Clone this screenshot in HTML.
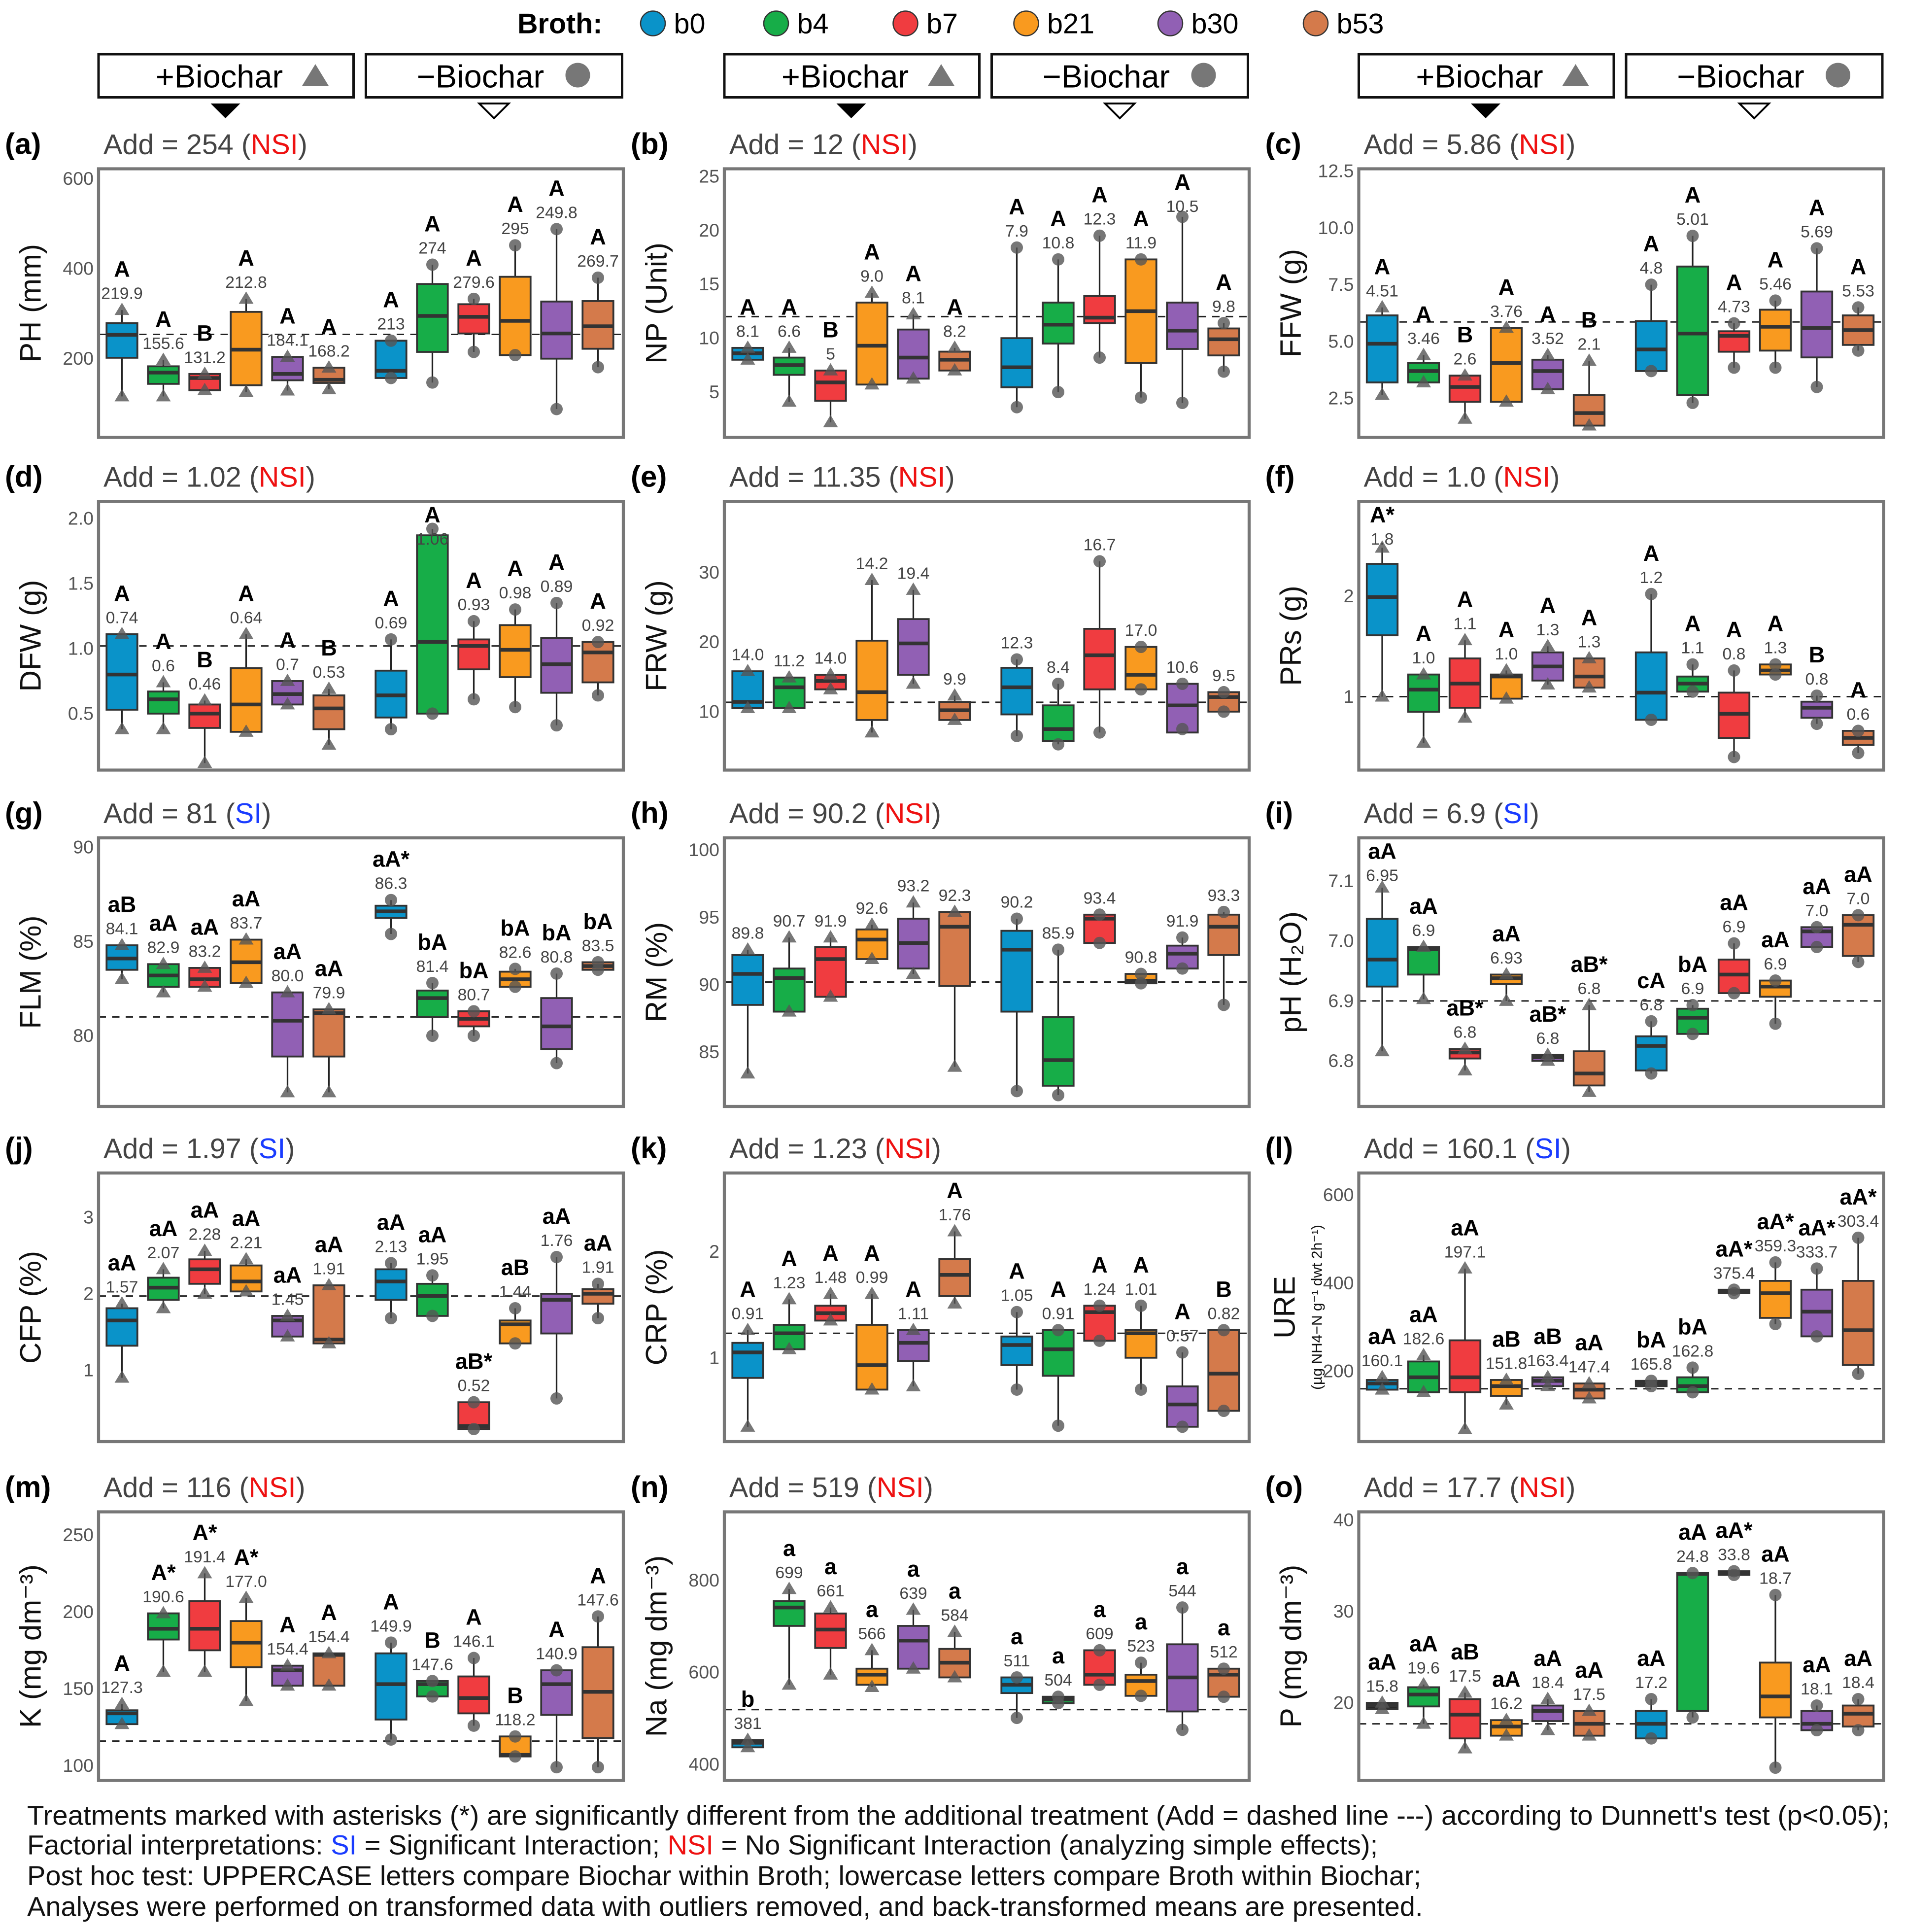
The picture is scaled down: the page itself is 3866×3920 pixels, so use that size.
<!DOCTYPE html>
<html><head><meta charset="utf-8"><style>
html,body{margin:0;padding:0;background:#fff;}
svg{display:block;font-family:"Liberation Sans",sans-serif;}
</style></head><body>
<svg id="fig" xmlns="http://www.w3.org/2000/svg" width="3866" height="3920" viewBox="0 0 1546.4 1568">
<g id="hdr">
<text x="420" y="27" font-size="23" font-weight="bold">Broth:</text>
</g>
<g id="panels"></g>
<g id="footer" font-size="22.4" fill="#111">
<text x="22" y="1481" textLength="1512" lengthAdjust="spacingAndGlyphs">Treatments marked with asterisks (*) are significantly different from the additional treatment (Add = dashed line ---) according to Dunnett's test (p&lt;0.05);</text>
<text x="22" y="1505">Factorial interpretations: <tspan fill="#1a3cff">SI</tspan> = Significant Interaction; <tspan fill="#ee1111">NSI</tspan> = No Significant Interaction (analyzing simple effects);</text>
<text x="22" y="1530">Post hoc test: UPPERCASE letters compare Biochar within Broth; lowercase letters compare Broth within Biochar;</text>
<text x="22" y="1555">Analyses were performed on transformed data with outliers removed, and back-transformed means are presented.</text>
</g>
</svg>
<script>
const broths = ['b0','b4','b7','b21','b30','b53'];
const panelIds = ['a','b','c','d','e','f','g','h','i','j','k','l','m','n','o'];
const yTitles = ['PH (mm)','NP (Unit)','FFW (g)','DFW (g)','FRW (g)','PRs (g)','FLM (%)','RM (%)','pH (H₂O)','CFP (%)','CRP (%)','URE','K (mg dm⁻³)','Na (mg dm⁻³)','P (mg dm⁻³)'];
const addValues = [254,12,5.86,1.02,11.35,1.0,81,90.2,6.9,1.97,1.23,160.1,116,519,17.7];
const addLabels = ['254','12','5.86','1.02','11.35','1.0','81','90.2','6.9','1.97','1.23','160.1','116','519','17.7'];
const interaction = ['NSI','NSI','NSI','NSI','NSI','NSI','SI','NSI','SI','SI','NSI','SI','NSI','NSI','NSI'];
const yLimits = [[25,622],[0.8,25.7],[0.78,12.6],[0.066,2.13],[1.6,40.2],[0.27,2.94],[76.25,90.5],[80.96,100.9],[6.724,7.172],[0.065,3.58],[0.21,2.74],[40,650],[90.4,265],[365,949],[11.5,40.9]];
const tickValues = [[200,400,600],[5,10,15,20,25],[2.5,5,7.5,10,12.5],[0.5,1,1.5,2],[10,20,30],[1,2],[80,85,90],[85,90,95,100],[6.8,6.9,7.0,7.1],[1,2,3],[1,2],[200,400,600],[100,150,200,250],[400,600,800],[20,30,40]];
const tickLabels = [['200','400','600'],['5','10','15','20','25'],['2.5','5.0','7.5','10.0','12.5'],['0.5','1.0','1.5','2.0'],['10','20','30'],['1','2'],['80','85','90'],['85','90','95','100'],['6.8','6.9','7.0','7.1'],['1','2','3'],['1','2'],['200','400','600'],['100','150','200','250'],['400','600','800'],['20','30','40']];
const lows = [
[116,116,130,126,129,132,157,147,215,208,88,181],
[8.0,4.1,2.2,5.7,6.25,7.0,3.6,5.0,8.2,4.5,4.0,6.9],
[2.65,3.2,1.6,2.35,2.9,1.3,3.7,2.3,3.85,3.85,3.0,4.6],
[0.38,0.38,0.12,0.36,0.57,0.26,0.38,0.5,0.61,0.55,0.41,0.64],
[10.5,10.5,13.2,7.0,14.0,8.8,6.5,5.3,7.0,13.2,7.5,10.0],
[1.0,0.54,0.79,0.98,1.12,1.09,0.77,1.05,0.4,1.22,0.73,0.44],
[83.0,82.3,82.6,82.8,77.0,77.0,85.4,80.0,80.0,82.6,78.55,83.5],
[83.4,88.0,89.1,91.9,90.8,83.9,82.1,81.8,93.1,90.1,91.2,88.5],
[6.816,6.903,6.784,6.9,6.8,6.748,6.779,6.845,6.913,6.862,6.99,6.965],
[0.9,1.81,2.0,2.03,1.44,1.35,1.68,1.71,0.23,1.35,0.63,1.68],
[0.35,1.08,1.35,0.7,0.73,1.51,0.7,0.36,1.16,0.7,0.35,0.5],
[158,152,68,124,166,138,166,152,377,307,279,194],
[127,161,161,142,152,152,117,145,126,106,99,99],
[437,573,595,568,608,589,501,533,573,549,475,547],
[19.3,17.7,15.0,16.4,17.0,16.4,16.1,18.4,34.0,12.9,17.0,17.0]];
const q1s = [
[202,144,130,141,152,146,157,215,256,208,200,222],
[8.0,6.6,4.2,5.7,6.25,7.0,5.45,9.5,11.4,7.7,9.0,8.4],
[3.2,3.2,2.35,2.35,2.9,1.3,3.7,2.65,4.55,4.6,4.3,4.85],
[0.53,0.5,0.39,0.36,0.57,0.38,0.47,0.5,0.84,0.78,0.66,0.74],
[10.5,10.5,13.2,8.8,15.3,8.8,9.6,5.8,13.2,13.2,7.0,10.0],
[1.61,0.85,0.89,0.98,1.16,1.09,0.77,1.05,0.59,1.22,0.79,0.52],
[83.5,82.6,82.6,82.8,78.9,78.9,86.25,81.0,80.5,82.6,79.3,83.5],
[88.5,88.0,89.1,91.9,91.2,89.9,88.0,82.5,93.1,90.1,91.2,92.2],
[6.924,6.944,6.804,6.928,6.8,6.759,6.784,6.845,6.913,6.907,6.99,6.975],
[1.32,1.92,2.13,2.03,1.44,1.35,1.92,1.71,0.23,1.35,1.48,1.87],
[0.81,1.08,1.35,0.7,0.97,1.58,0.93,0.83,1.16,1.0,0.35,0.5],
[158,152,152,144,166,138,166,152,377,321,279,214],
[127,182,175,164,152,152,130,145,134,106,133,118],
[437,701,653,573,608,589,555,533,573,549,515,547],
[19.3,19.6,16.1,16.4,18.0,16.4,16.1,19.1,34.0,18.4,17.0,17.4]];
const meds = [
[253,169,157,220,166,153,173,295,293,284,256,272],
[8.6,7.5,5.9,9.3,8.2,8.0,7.3,11.25,11.9,12.5,10.7,9.9],
[4.9,3.7,3.0,4.05,3.7,1.85,4.65,5.35,5.25,5.65,5.6,5.5],
[0.8,0.61,0.5,0.57,0.65,0.54,0.64,1.05,1.02,0.99,0.88,0.97],
[11.4,13.5,14.4,12.8,19.8,10.2,13.5,7.5,18.1,15.3,10.9,12.1],
[1.99,1.07,1.13,1.2,1.3,1.2,1.04,1.13,0.83,1.26,0.89,0.59],
[84.1,83.2,83.0,83.9,80.8,81.2,86.6,82.0,80.9,83.0,80.5,83.7],
[90.8,90.5,91.9,93.35,93.1,94.3,92.6,84.4,94.9,90.3,92.3,94.3],
[6.969,6.986,6.814,6.938,6.806,6.779,6.825,6.872,6.944,6.924,7.016,7.027],
[1.65,2.08,2.32,2.16,1.65,1.4,2.16,1.97,0.27,1.6,1.92,2.0],
[1.05,1.23,1.42,0.93,1.14,1.78,1.12,1.08,1.43,1.23,0.56,0.85],
[172,186,186,166,178,158,172,166,382,377,335,293],
[134,189,189,180,162,172,153,153,144,107,153,148],
[447,741,693,595,669,621,573,541,595,581,589,595],
[19.7,20.9,18.7,17.4,19.1,17.7,17.7,34.1,34.2,20.7,17.7,18.8]];
const q3s = [
[279,183,166,304,204,180,240,366,321,382,327,328],
[9.1,8.2,7.0,13.3,10.8,8.75,10.0,13.3,13.9,17.3,13.3,10.9],
[6.15,4.05,3.5,5.6,4.2,2.65,5.9,8.3,5.45,6.4,7.2,6.15],
[1.11,0.67,0.57,0.85,0.75,0.64,0.83,1.87,1.07,1.18,1.08,1.05],
[15.8,14.9,15.3,20.2,23.3,11.4,16.3,10.9,21.9,19.3,14.0,12.8],
[2.32,1.22,1.38,1.22,1.44,1.38,1.44,1.2,1.04,1.32,0.95,0.66],
[84.8,83.8,83.6,85.1,82.3,81.4,86.9,82.4,81.3,83.4,82.0,83.9],
[92.2,91.2,92.8,94.1,94.9,95.4,94.0,87.6,95.2,90.8,92.9,95.2],
[7.037,6.99,6.82,6.944,6.81,6.816,6.841,6.887,6.969,6.934,7.023,7.043],
[1.81,2.21,2.45,2.37,1.71,2.11,2.32,2.13,0.58,1.65,2.0,2.06],
[1.14,1.31,1.49,1.31,1.26,1.93,1.2,1.26,1.49,1.26,0.73,1.26],
[180,222,270,180,186,172,178,186,385,405,385,405],
[136,199,207,194,165,173,173,155,158,119,162,177],
[453,755,728,608,701,651,589,547,648,595,661,608],
[20.0,21.7,20.4,18.1,19.7,19.1,19.1,34.2,34.4,24.4,19.1,19.7]];
const highs = [
[308,197,166,333,204,180,240,409,333,452,488,380],
[9.1,9.1,7.0,14.2,12.2,9.1,18.4,17.3,19.5,17.3,21.25,11.4],
[6.5,4.4,3.5,5.6,4.4,4.15,7.5,9.65,5.8,6.8,9.1,6.5],
[1.11,0.74,0.6,1.11,0.75,0.69,1.07,1.92,1.21,1.3,1.35,1.05],
[15.8,14.9,15.3,28.9,27.5,12.3,17.5,14.0,31.6,19.3,14.0,12.8],
[2.48,1.22,1.56,1.26,1.5,1.38,2.02,1.32,1.26,1.32,1.01,0.66],
[84.8,83.8,83.6,85.1,82.3,81.4,87.2,82.8,81.3,83.55,83.3,83.9],
[92.6,93.5,93.5,94.45,96.1,95.4,94.9,92.6,95.2,90.8,93.5,95.4],
[7.089,6.99,6.82,6.944,6.81,6.893,6.866,6.893,6.996,6.934,7.023,7.043],
[1.87,2.32,2.56,2.45,1.71,2.11,2.4,2.24,0.58,1.81,2.48,2.13],
[1.26,1.55,1.6,1.6,1.26,2.19,1.43,1.26,1.49,1.49,1.05,1.26],
[186,236,433,180,186,172,178,208,385,447,433,503],
[140,199,225,209,165,173,180,155,170,119,162,197],
[453,781,741,648,736,688,589,547,648,621,741,608],
[20.0,22.0,21.1,18.1,20.4,19.1,20.4,34.2,34.4,31.8,19.7,20.4]];
const meanLabels = [
['219.9','155.6','131.2','212.8','184.1','168.2','213','274','279.6','295','249.8','269.7'],
['8.1','6.6','5','9.0','8.1','8.2','7.9','10.8','12.3','11.9','10.5','9.8'],
['4.51','3.46','2.6','3.76','3.52','2.1','4.8','5.01','4.73','5.46','5.69','5.53'],
['0.74','0.6','0.46','0.64','0.7','0.53','0.69','1.06','0.93','0.98','0.89','0.92'],
['14.0','11.2','14.0','14.2','19.4','9.9','12.3','8.4','16.7','17.0','10.6','9.5'],
['1.8','1.0','1.1','1.0','1.3','1.3','1.2','1.1','0.8','1.3','0.8','0.6'],
['84.1','82.9','83.2','83.7','80.0','79.9','86.3','81.4','80.7','82.6','80.8','83.5'],
['89.8','90.7','91.9','92.6','93.2','92.3','90.2','85.9','93.4','90.8','91.9','93.3'],
['6.95','6.9','6.8','6.93','6.8','6.8','6.8','6.9','6.9','6.9','7.0','7.0'],
['1.57','2.07','2.28','2.21','1.45','1.91','2.13','1.95','0.52','1.44','1.76','1.91'],
['0.91','1.23','1.48','0.99','1.11','1.76','1.05','0.91','1.24','1.01','0.57','0.82'],
['160.1','182.6','197.1','151.8','163.4','147.4','165.8','162.8','375.4','359.3','333.7','303.4'],
['127.3','190.6','191.4','177.0','154.4','154.4','149.9','147.6','146.1','118.2','140.9','147.6'],
['381','699','661','566','639','584','511','504','609','523','544','512'],
['15.8','19.6','17.5','16.2','18.4','17.5','17.2','24.8','33.8','18.7','18.1','18.4']];
const letters = [
['A','A','B','A','A','A','A','A','A','A','A','A'],
['A','A','B','A','A','A','A','A','A','A','A','A'],
['A','A','B','A','A','B','A','A','A','A','A','A'],
['A','A','B','A','A','B','A','A','A','A','A','A'],
['','','','','','','','','','','',''],
['A*','A','A','A','A','A','A','A','A','A','B','A'],
['aB','aA','aA','aA','aA','aA','aA*','bA','bA','bA','bA','bA'],
['','','','','','','','','','','',''],
['aA','aA','aB*','aA','aB*','aB*','cA','bA','aA','aA','aA','aA'],
['aA','aA','aA','aA','aA','aA','aA','aA','aB*','aB','aA','aA'],
['A','A','A','A','A','A','A','A','A','A','A','B'],
['aA','aA','aA','aB','aB','aA','bA','bA','aA*','aA*','aA*','aA*'],
['A','A*','A*','A*','A','A','A','B','A','B','A','A'],
['b','a','a','a','a','a','a','a','a','a','a','a'],
['aA','aA','aB','aA','aA','aA','aA','aA','aA*','aA','aA','aA']];

const colors = ['#0a93c9','#17ad48','#f03c40','#f99a1f','#9160b4','#d47a4b'];
const NS = 'http://www.w3.org/2000/svg';
const colX = [80,588,1103], rowY = [137,407,680,952,1227], PW = 426, PH = 218;
function mk(tag, attrs, parent, txt){
  const e = document.createElementNS(NS, tag);
  for (const k in attrs) e.setAttribute(k, attrs[k]);
  if (txt !== undefined) e.textContent = txt;
  parent.appendChild(e);
  return e;
}
const hdr = document.getElementById('hdr');
const legX = [530,630,735,833,950,1068];
broths.forEach((b,i)=>{
  const g = mk('g',{},hdr);
  
  
  mk('circle',{cx:legX[i],cy:19,r:10,fill:colors[i],stroke:'#333','stroke-width':1},g);
  mk('text',{x:legX[i]+17,y:27,'font-size':23},g,b);
});
colX.forEach((cx,c)=>{
  const g1 = mk('g',{},hdr);
  
  
  mk('rect',{x:cx,y:44,width:207,height:35,fill:'#fff',stroke:'#111','stroke-width':2},g1);
  mk('text',{x:cx+98,y:71,'font-size':26,'text-anchor':'middle'},g1,'+Biochar');
  mk('polygon',{points:`${cx+165},70 ${cx+176},52 ${cx+187},70`,fill:'#777'},g1);
  mk('polygon',{points:`${cx+91},84 ${cx+115},84 ${cx+103},96`,fill:'#000'},g1);
  const g2 = mk('g',{},hdr);
  
  
  mk('rect',{x:cx+217,y:44,width:208,height:35,fill:'#fff',stroke:'#111','stroke-width':2},g2);
  mk('text',{x:cx+310,y:71,'font-size':26,'text-anchor':'middle'},g2,'−Biochar');
  mk('circle',{cx:cx+389,cy:61,r:10,fill:'#777'},g2);
  mk('polygon',{points:`${cx+309},84 ${cx+333},84 ${cx+321},96`,fill:'#fff',stroke:'#000','stroke-width':1.5},g2);
});
const root = document.getElementById('panels');
panelIds.forEach((pid,p)=>{
  const x0 = colX[p%3], y0 = rowY[Math.floor(p/3)];
  const [dmin,dmax] = yLimits[p];
  const Y = v => y0 + PH - (v-dmin)/(dmax-dmin)*PH;
  const X = i => x0 + 19 + (i<6 ? i : i+0.5)*33.6;
  const g = mk('g',{},root);
  
  
  const pl = mk('text',{x:x0-76,y:y0-12,'font-size':24,'font-weight':'bold'},g,'('+pid+')');
  
  
  const tt = mk('text',{x:x0+4,y:y0-12,'font-size':23,fill:'#444'},g);
  
  
  mk('tspan',{},tt,'Add = '+addLabels[p]+' (');
  mk('tspan',{fill:interaction[p]==='SI'?'#1a3cff':'#ee1111'},tt,interaction[p]);
  mk('tspan',{},tt,')');
  const yt = mk('text',{transform:`translate(${x0-47},${y0+PH/2}) rotate(-90)`,'font-size':24,'text-anchor':'middle',fill:'#111'},g,yTitles[p]);
  
  
  if (p===11){
    yt.setAttribute('transform',`translate(${x0-52},${y0+PH/2}) rotate(-90)`);
    const ys = mk('text',{transform:`translate(${x0-30},${y0+PH/2}) rotate(-90)`,'font-size':12,'text-anchor':'middle',fill:'#111'},g,'(µg NH4−N g⁻¹ dwt 2h⁻¹)');
    
    
  }
  tickValues[p].forEach((t,k)=>{
    const tl = mk('text',{x:x0-4,y:Y(t)+5,'font-size':15,'text-anchor':'end',fill:'#555'},g,tickLabels[p][k]);
    
    
  });
  const al = mk('line',{x1:x0,x2:x0+PW,y1:Y(addValues[p]),y2:Y(addValues[p]),stroke:'#222','stroke-width':1.2,'stroke-dasharray':'6,5'},g);
  
  
  for (let i=0;i<12;i++){
    const cx = X(i), col = (p===14&&i===0)?'#222':colors[i%6];
    const bg = mk('g',{},g);
    
    
    const yl=Y(lows[p][i]), y1=Y(q1s[p][i]), ym=Y(meds[p][i]), y3=Y(q3s[p][i]), yh=Y(highs[p][i]);
    mk('line',{x1:cx,x2:cx,y1:yh,y2:yl,stroke:'#222','stroke-width':1.3},bg);
    mk('rect',{x:cx-12.5,y:y3,width:25,height:Math.max(2,y1-y3),fill:col,stroke:'#333','stroke-width':1.5},bg);
    mk('line',{x1:cx-12.5,x2:cx+12.5,y1:ym,y2:ym,stroke:'#333','stroke-width':3},bg);
    [yl,yh].forEach(yy=>{
      if (i<6) mk('polygon',{points:`${cx-6},${yy+4} ${cx},${yy-6} ${cx+6},${yy+4}`,fill:'#555','fill-opacity':0.8},bg);
      else mk('circle',{cx:cx,cy:yy,r:5,fill:'#555','fill-opacity':0.8},bg);
    });
    let top = Math.min(yh,y3);
    if (letters[p][i] && top-27 < y0+17) top = y0+44;
    const ml = mk('text',{x:cx,y:top-9,'font-size':13.5,'text-anchor':'middle',fill:'#444'},g,meanLabels[p][i]);
    
    
    if (letters[p][i]){
      const lt = mk('text',{x:cx,y:top-27,'font-size':18,'font-weight':'bold','text-anchor':'middle'},g,letters[p][i]);
      
      
    }
  }
  const fr = mk('rect',{x:x0,y:y0,width:PW,height:PH,fill:'none',stroke:'#777','stroke-width':2.5},g);
  
  
});
</script>
</body></html>
